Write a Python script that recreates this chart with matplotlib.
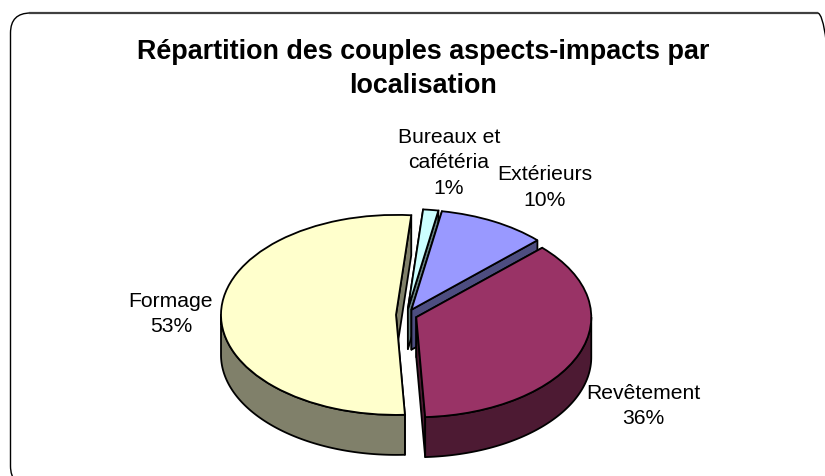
import matplotlib
matplotlib.use('Agg')
import numpy as np
import matplotlib.pyplot as plt
from matplotlib.patches import Polygon, FancyBboxPatch
from matplotlib.lines import Line2D

W, H = 825, 477

# Données
categories = ['Formage', 'Revêtement', 'Extérieurs', 'Bureaux et\ncafétéria']
valeurs = [52.2, 36.4, 10.0, 1.4]
pourcents = [53, 36, 10, 1]
couleurs = ['#FFFFCC', '#993366', '#9999FF', '#CCFFFF']
couleurs_cote = ['#80806A', '#4D1A33', '#4D4D80', '#668080']
titre = 'Répartition des couples aspects-impacts par\nlocalisation'

plt.rcParams['font.family'] = ['Liberation Sans', 'DejaVu Sans']

fig = plt.figure(figsize=(W / 100, H / 100), dpi=100)
ax = fig.add_axes([0, 0, 1, 1])

# Echelle: ellipse 175 x 100 px, centre du camembert a (406.5, 316)
RX, RY = 175.0, 100.0
CX, CY = 406.5, 316.0
EP = 0.4  # epaisseur du disque
LW = 1.3

wedges, _ = ax.pie(valeurs, colors=couleurs, startangle=85, counterclock=True,
                   explode=[0.06] * len(valeurs),
                   wedgeprops=dict(edgecolor='black', linewidth=LW))
ax.set_aspect('auto')
ax.set_xlim(-CX / RX, (W - CX) / RX)
ax.set_ylim((CY - H) / RY, CY / RY)


def cote(w, couleur, z):
    # dessine les faces laterales d'une part
    cx, cy = w.center
    faces = []
    for t in (w.theta1, w.theta2):
        a = np.radians(t)
        px, py = cx + np.cos(a), cy + np.sin(a)
        faces.append(([(cx, cy), (px, py), (px, py - EP), (cx, cy - EP)], py))
    faces.sort(key=lambda f: -f[1])
    for pts, _ in faces:
        ax.add_patch(Polygon(pts, closed=True, facecolor=couleur, edgecolor='black',
                             linewidth=LW, joinstyle='round', zorder=z))
    # arc visible (partie avant du disque)
    for k in (0, 360):
        t1 = max(w.theta1, 180 + k)
        t2 = min(w.theta2, 360 + k)
        if t2 > t1:
            a = np.radians(np.linspace(t1, t2, 120))
            x = cx + np.cos(a)
            y = cy + np.sin(a)
            pts = np.r_[np.c_[x, y], np.c_[x, y - EP][::-1]]
            ax.add_patch(Polygon(pts, closed=True, facecolor=couleur, edgecolor='black',
                                 linewidth=LW, joinstyle='round', zorder=z + 0.1))
    w.set_zorder(z + 0.2)


# de l'arriere vers l'avant
ordre = [3, 2, 1, 0]
for i, idx in enumerate(ordre):
    cote(wedges[idx], couleurs_cote[idx], 2 + i)


def txt(x, y, s, **kw):
    fig.text(x / W, 1 - y / H, s, ha='center', va='center', color='black', **kw)


txt(423, 69, titre, fontsize=19.4, fontweight='bold', linespacing=1.36)

pos_labels = [(171, 314), (643, 406), (545, 187.5), (449, 163)]
for nom, val, (lx, ly) in zip(categories, pourcents, pos_labels):
    txt(lx, ly, f'{nom}\n{val:d}%', fontsize=15.2, linespacing=1.45)

# cadre arrondi (coupe par le bord de l'image)
cadre = FancyBboxPatch((10.5, H - 487), 827, 473,
                       boxstyle='round,pad=0,rounding_size=20', transform=None,
                       facecolor='none', edgecolor='black', linewidth=1.0, clip_on=False)
fig.add_artist(cadre)
fig.add_artist(Line2D([30, 817], [H - 14, H - 14], transform=None, color='#404040', linewidth=1.6))

fig.savefig('out.png', dpi=100, facecolor='white')
